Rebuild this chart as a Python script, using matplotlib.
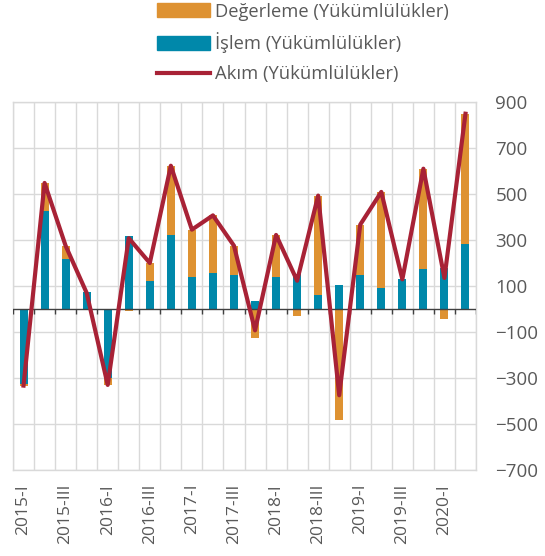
import numpy as np
import matplotlib
matplotlib.use("Agg")
import matplotlib.pyplot as plt
from matplotlib.patches import Patch
from matplotlib.lines import Line2D

plt.rcParams['font.family'] = ['Open Sans', 'DejaVu Sans']

quarters = ["2015-I", "2015-II", "2015-III", "2015-IV",
            "2016-I", "2016-II", "2016-III", "2016-IV",
            "2017-I", "2017-II", "2017-III", "2017-IV",
            "2018-I", "2018-II", "2018-III", "2018-IV",
            "2019-I", "2019-II", "2019-III", "2019-IV",
            "2020-I", "2020-II"]
islem = [-325, 427, 217, 74, -300, 316, 120, 320, 140, 156, 149, 33,
         138, 152, 59, 106, 149, 90, 132, 172, 178, 281]
degerleme = [-8, 121, 58, -5, -29, -8, 80, 303, 205, 251, 126, -126,
             184, -29, 434, -481, 218, 419, -3, 438, -43, 568]
akim = [-333, 548, 275, 70, -330, 308, 200, 623, 345, 407, 275, -93,
        322, 123, 493, -375, 367, 509, 129, 610, 135, 849]
ytick_vals = [-700, -500, -300, -100, 100, 300, 500, 700, 900]

ORANGE = "#DE9232"
BLUE = "#0088AA"
RED = "#A82236"
TXT = "#595959"

x = np.arange(len(quarters))
islem = np.array(islem, dtype=float)
deg = np.array(degerleme, dtype=float)
# stack positive values on positive, negative on negative
deg_base = np.where(deg >= 0, np.maximum(islem, 0), np.minimum(islem, 0))

fig = plt.figure(figsize=(5.45, 5.56), dpi=100)
ax = fig.add_axes([13 / 545, 1 - 470 / 556, 463 / 545, 368 / 556])

ax.bar(x, islem, width=0.38, color=BLUE, zorder=3)
ax.bar(x, deg, width=0.38, bottom=deg_base, color=ORANGE, zorder=3)
ax.plot(x, akim, color=RED, lw=3, zorder=5)

ax.set_xlim(-0.5, len(quarters) - 0.5)
ax.set_ylim(-700, 900)

# grid at category boundaries and odd hundreds
ax.set_xticks(np.arange(-0.5, len(quarters), 1), minor=True)
ax.set_xticks(x[::2])
ax.set_xticklabels(quarters[::2], rotation=90, fontsize=12.5, color=TXT)
ax.tick_params(axis='x', which='both', length=0, pad=10)
ax.set_yticks(ytick_vals)
ax.yaxis.tick_right()
ax.tick_params(axis='y', length=0, labelsize=13.5, labelcolor=TXT, pad=14)
ax.grid(True, axis='x', which='minor', color="#D9D9D9", lw=1, zorder=0)
ax.grid(True, axis='y', which='major', color="#D9D9D9", lw=1, zorder=0)
ax.grid(False, axis='x', which='major')
for s in ax.spines.values():
    s.set_color("#D9D9D9")
    s.set_linewidth(1)

# zero axis with small tick marks
ax.axhline(0, color="#404040", lw=1, zorder=4)
ax.vlines(np.arange(-0.5, len(quarters), 1), -22, 0, color="#404040", lw=1, zorder=4)

handles = [Patch(color=ORANGE), Patch(color=BLUE), Line2D([], [], color=RED, lw=3)]
labels = ["Değerleme (Yükümlülükler)", "İşlem (Yükümlülükler)", "Akım (Yükümlülükler)"]
leg = fig.legend(handles, labels, loc='upper left', bbox_to_anchor=(140 / 545, 1.025),
                 frameon=False, fontsize=13.2, handlelength=2.9, handleheight=0.75,
                 handletextpad=0.3, labelspacing=0.65, labelcolor=TXT)

fig.savefig("out.png", dpi=100)
